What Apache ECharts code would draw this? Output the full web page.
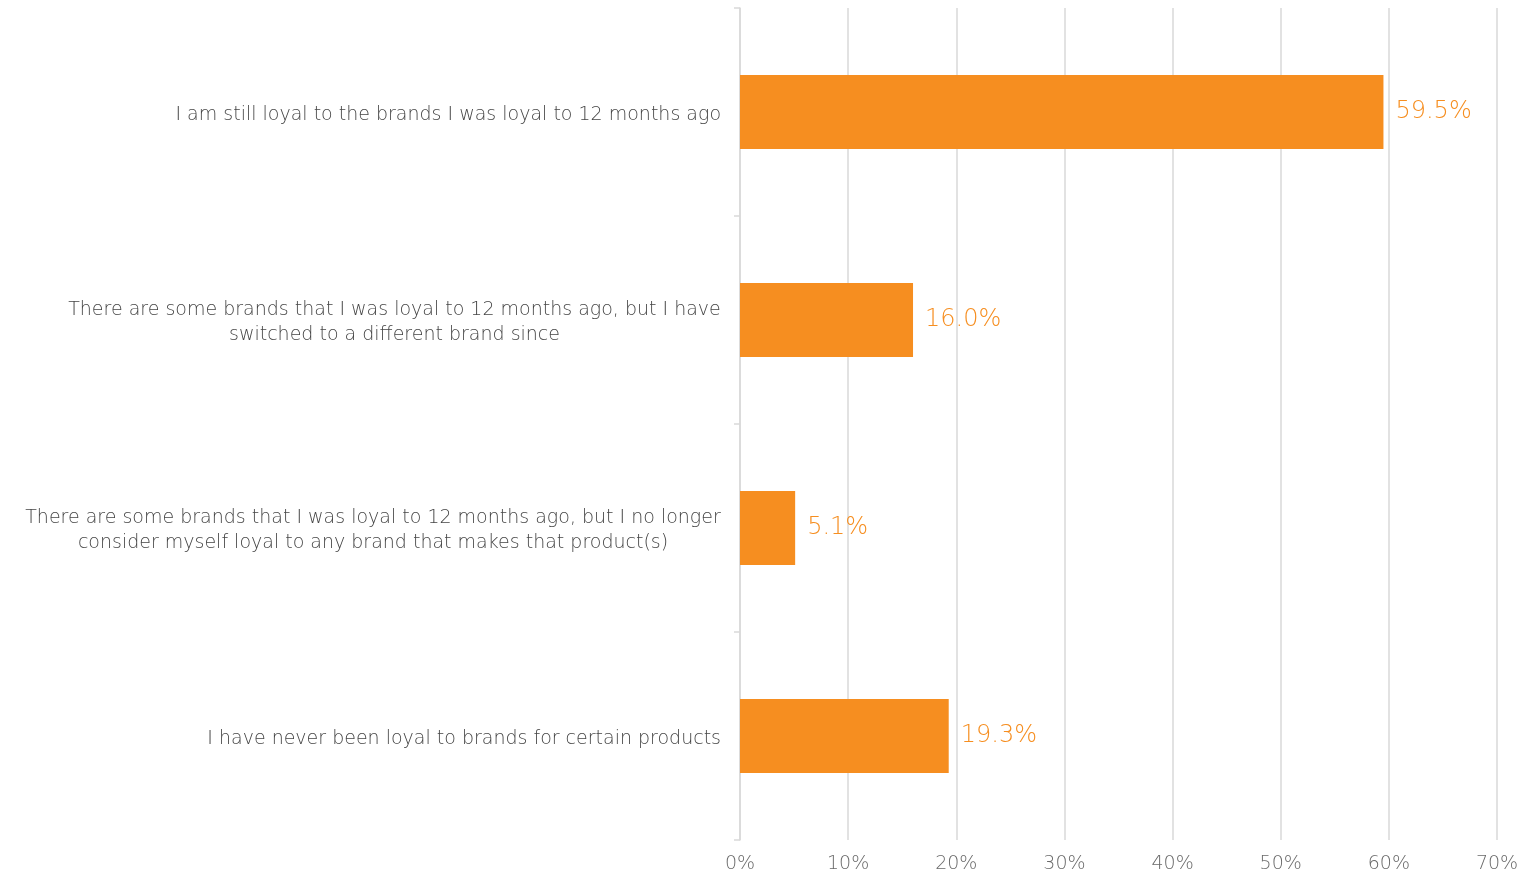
<!DOCTYPE html>
<html><head><meta charset="utf-8">
<script src="https://cdn.jsdelivr.net/npm/echarts@6/dist/echarts.min.js"></script>
<style>html,body{margin:0;padding:0;background:#fff}#c{width:1517px;height:875px}</style>
</head><body><div id="c"></div>
<script>
const categories = [
  "I am still loyal to the brands I was loyal to 12 months ago",
  "There are some brands that I was loyal to 12 months ago, but I have\nswitched to a different brand since",
  "There are some brands that I was loyal to 12 months ago, but I no longer\nconsider myself loyal to any brand that makes that product(s)",
  "I have never been loyal to brands for certain products"
];
const values = [59.5, 16.0, 5.1, 19.3];

const FONT = 'DejaVu Sans';
const FS = 19;
const FW = 200;
const TXT = '#454545';
const cv = document.createElement('canvas').getContext('2d');
cv.font = FW + ' ' + FS + 'px "' + FONT + '"';
const rich = {};
categories.forEach((c, i) => {
  const w = Math.max(...c.split('\n').map(l => cv.measureText(l).width));
  rich['s' + i] = { width: Math.ceil(w), align: 'center', color: TXT, fontSize: FS, fontFamily: FONT, fontWeight: FW, lineHeight: 25 };
});

const chart = echarts.init(document.getElementById('c'));
chart.setOption({
  animation: false,
  grid: { left: 740, right: 20, top: 8, bottom: 35, containLabel: false, outerBoundsMode: 'none' },
  xAxis: {
    type: 'value', min: 0, max: 70, interval: 10,
    axisLine: { show: false }, axisTick: { show: false },
    splitLine: { lineStyle: { color: '#d9d9d9', width: 1.5 } },
    axisLabel: { formatter: v => v + '%', color: '#6a6a6a', fontSize: 19, fontFamily: FONT, fontWeight: FW, margin: 15 }
  },
  yAxis: {
    type: 'category', inverse: true, data: categories,
    axisLine: { lineStyle: { color: '#d9d9d9', width: 1.5 } },
    axisTick: { show: true, length: 6, lineStyle: { color: '#d9d9d9', width: 1.5 } },
    axisLabel: {
      color: TXT, fontSize: FS, fontFamily: FONT, fontWeight: FW, margin: 19, lineHeight: 25,
      align: 'right', padding: [6, 0, 0, 0],
      formatter: (v, i) => {
        if (v.indexOf('\n') < 0) return v;
        return v.split('\n').map(l => '{s' + i + '|' + l + '}').join('\n');
      },
      rich: rich
    }
  },
  series: [{
    type: 'bar', data: values, barWidth: 74,
    itemStyle: { color: '#F68E20' },
    label: { show: true, position: 'right', distance: 12, formatter: p => p.value.toFixed(1) + '%', color: '#F68E20', fontSize: 24, fontFamily: FONT, fontWeight: FW, padding: [5, 0, 0, 0] }
  }]
});
</script></body></html>
